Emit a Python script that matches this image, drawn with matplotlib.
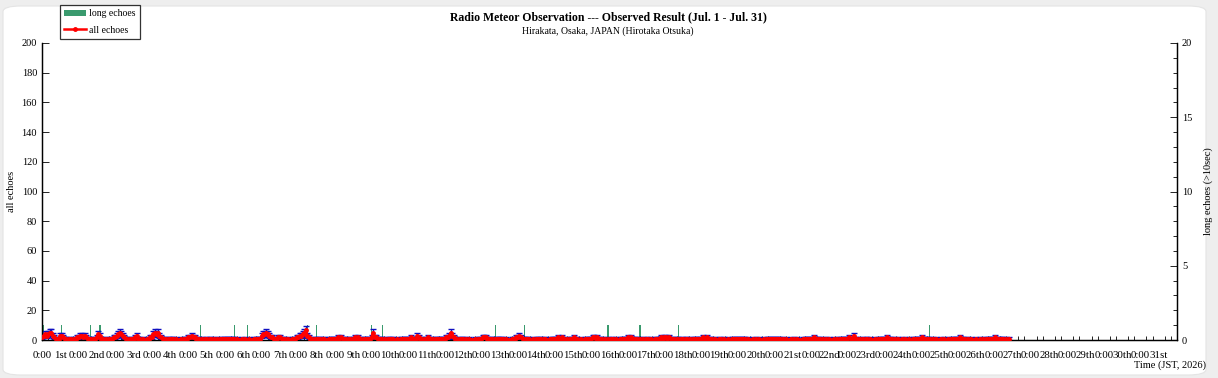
import matplotlib.pyplot as plt
import numpy as np
from matplotlib.patches import FancyBboxPatch
from matplotlib.ticker import FixedLocator, MultipleLocator

# hourly counts of all echoes, one list per day (Jul. 1 - Jul. 27 10:00)
d01 = [2, 3, 4, 3, 4, 5, 5, 3, 2, 1, 1, 1, 3, 3, 2, 1, 1, 0, 1, 1, 0, 1, 1, 2]
d02 = [2, 3, 3, 2, 3, 2, 1, 1, 1, 0, 1, 1, 2, 4, 3, 1, 1, 0, 1, 0, 1, 1, 1, 2]
d03 = [2, 3, 4, 5, 4, 3, 2, 1, 1, 0, 1, 1, 1, 2, 3, 1, 1, 0, 1, 0, 0, 1, 1, 2]
d04 = [2, 4, 5, 4, 5, 3, 2, 1, 1, 1, 0, 1, 1, 1, 1, 0, 1, 0, 0, 1, 0, 1, 1, 1]
d05 = [2, 2, 3, 2, 2, 1, 1, 1, 0, 1, 0, 1, 1, 0, 1, 1, 0, 1, 0, 1, 0, 1, 1, 1]
d06 = [1, 1, 1, 1, 1, 1, 1, 0, 1, 0, 0, 1, 0, 1, 0, 0, 1, 0, 0, 1, 1, 1, 1, 1]
d07 = [3, 4, 4, 5, 4, 3, 2, 2, 1, 1, 1, 2, 2, 1, 1, 1, 0, 1, 0, 0, 1, 1, 1, 2]
d08 = [2, 3, 3, 4, 5, 7, 3, 2, 1, 1, 0, 1, 1, 1, 1, 0, 1, 1, 0, 0, 1, 1, 1, 1]
d09 = [1, 1, 2, 1, 2, 1, 1, 1, 0, 1, 1, 0, 1, 2, 1, 2, 1, 1, 0, 1, 1, 1, 1, 1]
d10 = [2, 5, 2, 2, 1, 1, 1, 1, 0, 1, 0, 1, 1, 1, 1, 0, 0, 1, 0, 1, 1, 1, 1, 1]
d11 = [1, 1, 2, 1, 1, 1, 3, 2, 1, 1, 0, 1, 1, 2, 1, 1, 1, 0, 1, 1, 1, 1, 1, 1]
d12 = [1, 2, 2, 3, 5, 3, 2, 1, 1, 0, 1, 1, 1, 0, 1, 0, 1, 0, 0, 0, 1, 0, 1, 1]
d13 = [1, 2, 2, 2, 1, 1, 1, 1, 0, 1, 1, 1, 1, 1, 1, 0, 1, 0, 0, 0, 1, 1, 1, 2]
d14 = [2, 3, 2, 1, 1, 1, 1, 1, 0, 0, 1, 0, 1, 1, 1, 1, 0, 1, 1, 0, 0, 1, 1, 1]
d15 = [1, 1, 2, 1, 1, 2, 1, 0, 1, 0, 1, 1, 1, 2, 1, 1, 0, 1, 0, 0, 1, 1, 1, 1]
d16 = [1, 2, 2, 1, 2, 1, 1, 1, 0, 1, 0, 1, 0, 1, 1, 0, 1, 0, 0, 1, 1, 1, 1, 1]
d17 = [2, 1, 2, 1, 1, 1, 1, 0, 1, 0, 1, 0, 1, 1, 0, 1, 0, 0, 1, 1, 1, 1, 2, 1]
d18 = [2, 2, 1, 2, 1, 1, 1, 0, 1, 1, 0, 1, 1, 0, 1, 1, 0, 1, 0, 1, 1, 1, 1, 1]
d19 = [1, 2, 1, 1, 2, 1, 1, 1, 0, 1, 0, 0, 1, 1, 0, 1, 0, 0, 1, 0, 1, 1, 1, 1]
d20 = [1, 1, 1, 1, 1, 1, 0, 1, 0, 0, 1, 0, 1, 0, 1, 0, 0, 1, 0, 1, 1, 1, 1, 1]
d21 = [1, 1, 1, 1, 1, 0, 1, 0, 1, 0, 0, 1, 0, 1, 0, 1, 0, 0, 0, 1, 1, 1, 1, 1]
d22 = [1, 1, 2, 1, 1, 1, 1, 0, 1, 0, 1, 0, 1, 0, 0, 1, 0, 1, 0, 1, 1, 1, 1, 1]
d23 = [1, 2, 1, 1, 3, 1, 1, 0, 1, 0, 1, 0, 1, 1, 0, 1, 0, 0, 1, 0, 1, 1, 1, 1]
d24 = [1, 1, 2, 1, 1, 1, 0, 1, 0, 1, 0, 0, 1, 0, 1, 0, 1, 0, 0, 1, 1, 1, 1, 1]
d25 = [1, 2, 1, 1, 1, 1, 1, 0, 1, 0, 1, 0, 0, 1, 0, 1, 0, 0, 1, 0, 1, 1, 1, 1]
d26 = [1, 1, 2, 1, 1, 1, 0, 1, 0, 1, 0, 0, 1, 0, 0, 1, 0, 1, 0, 1, 1, 1, 1, 1]
d27 = [1, 2, 1, 1, 1, 1, 1, 0, 1, 0, 1]

# hours (from Jul. 1 0:00) with long echoes, and their counts
long_hours = [1, 13, 32, 38, 104, 126, 135, 174, 180, 216, 223, 297, 316,
              371, 392, 417, 582]
long_counts = [1, 1, 1, 1, 1, 1, 1, 1, 1, 1, 1, 1, 1, 1, 1, 1, 1]

ordinals = ['1st', '2nd', '3rd'] + [f'{d}th' for d in range(4, 21)] + \
    ['21st', '22nd', '23rd'] + [f'{d}th' for d in range(24, 31)] + ['31st']

all_echoes = np.array(d01 + d02 + d03 + d04 + d05 + d06 + d07 + d08 + d09 +
                      d10 + d11 + d12 + d13 + d14 + d15 + d16 + d17 + d18 +
                      d19 + d20 + d21 + d22 + d23 + d24 + d25 + d26 + d27)
hours = np.arange(len(all_echoes))

plt.rcParams['font.family'] = ['Liberation Serif', 'DejaVu Serif']

fig = plt.figure(figsize=(12.18, 3.78), dpi=100, facecolor='#eeeeee')
fig.patches.append(FancyBboxPatch((3 / 1218, 3 / 378), 1203 / 1218, 369 / 378,
                                  boxstyle='round,pad=0,rounding_size=0.015',
                                  transform=fig.transFigure, facecolor='white',
                                  edgecolor='#e4e4e4', lw=0.8, zorder=-10))

ax2 = fig.add_axes([42 / 1218, 1 - 340 / 378, 1135 / 1218, 297 / 378])
ax = ax2.twinx()
ax.yaxis.set_label_position('left')
ax.yaxis.tick_left()
ax2.yaxis.set_label_position('right')
ax2.yaxis.tick_right()
ax2.patch.set_visible(False)

bars = ax2.bar(long_hours, long_counts, width=0.7, color='#3a9a6e', lw=0,
               label='long echoes')
ax2.set_ylim(0, 20)
ax2.yaxis.set_major_locator(MultipleLocator(5))
ax2.yaxis.set_minor_locator(MultipleLocator(1))
ax2.set_ylabel('long echoes (>10sec)', fontsize=7.5, labelpad=8)

ax.errorbar(hours, all_echoes, yerr=np.sqrt(all_echoes), fmt='none',
            ecolor='#1010c0', elinewidth=1, capsize=2.2, zorder=2)
line, = ax.plot(hours, all_echoes, color='#ff0000', lw=1.8, marker='o',
                markersize=2.5, zorder=3, label='all echoes')
ax.set_ylim(0, 200)
ax.yaxis.set_major_locator(MultipleLocator(20))
ax.set_ylabel('all echoes', fontsize=7.5, labelpad=4)

ax2.set_xlim(0, 744)
ax2.xaxis.set_minor_locator(MultipleLocator(4))
tick_pos = np.arange(0, 744, 12)
tick_lab = []
for i in range(31):
    tick_lab += ['0:00', ordinals[i]]
ax2.xaxis.set_major_locator(FixedLocator(tick_pos))
ax2.set_xticklabels(tick_lab, fontsize=7.8)
ax2.tick_params(axis='x', which='major', length=0, pad=8)
ax2.tick_params(axis='x', which='minor', direction='in', length=3, width=0.6)
ax2.tick_params(axis='y', which='both', direction='in', labelsize=7.5,
                width=0.6)
ax2.tick_params(axis='y', which='major', length=5)
ax2.tick_params(axis='y', which='minor', length=3)
ax.tick_params(axis='y', direction='in', length=5, width=0.6, labelsize=7.5)

for a in (ax, ax2):
    a.spines['top'].set_visible(False)
    for s in ('left', 'right', 'bottom'):
        a.spines[s].set_linewidth(0.9)

fig.text(608 / 1218, 1 - 17 / 378, 'Radio Meteor Observation --- Observed Result (Jul. 1 - Jul. 31)',
         ha='center', va='center', fontsize=8.5, fontweight='bold')
fig.text(608 / 1218, 1 - 31 / 378, 'Hirakata, Osaka, JAPAN (Hirotaka Otsuka)',
         ha='center', va='center', fontsize=7)
fig.text(1206 / 1218, 1 - 365 / 378, 'Time (JST, 2026)', ha='right',
         va='center', fontsize=7.5)

leg = fig.legend(handles=[bars, line], loc='upper left',
                 bbox_to_anchor=(60 / 1218, 1 - 5 / 378), fontsize=7,
                 frameon=True, fancybox=False, borderpad=0.45,
                 handlelength=2.2, handletextpad=0.3, labelspacing=0.75,
                 borderaxespad=0)
leg.get_frame().set_edgecolor('black')
leg.get_frame().set_linewidth(0.9)

fig.savefig('out.png', dpi=100, facecolor=fig.get_facecolor())
